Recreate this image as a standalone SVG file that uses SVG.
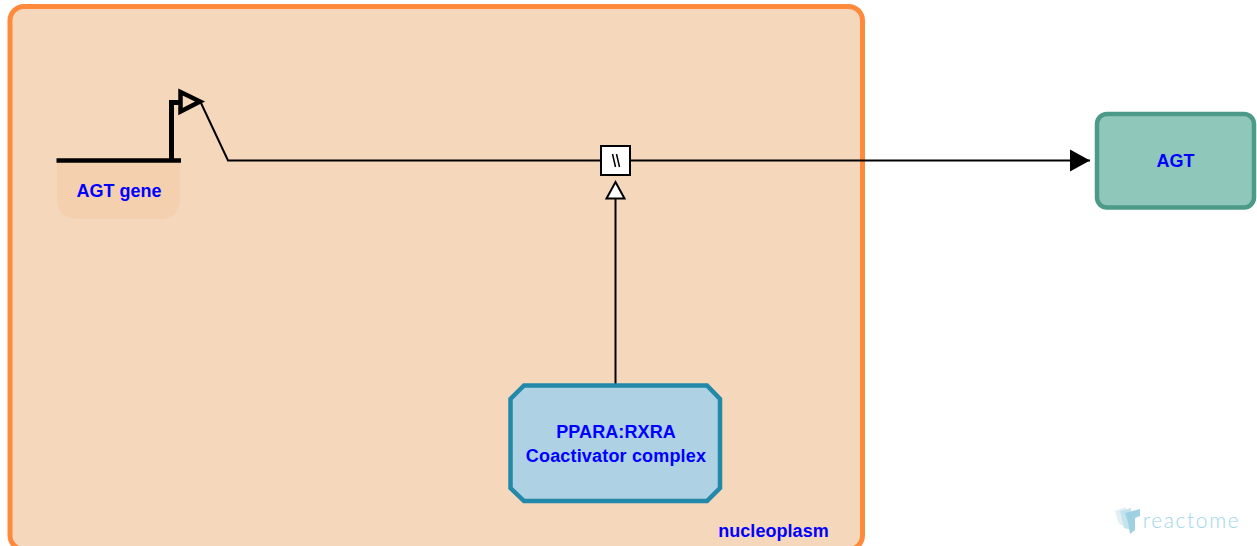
<svg xmlns="http://www.w3.org/2000/svg" width="1257" height="546" viewBox="0 0 1257 546">
<style>
text{font-family:"Liberation Sans",Arial,sans-serif;font-weight:700;font-size:18px;fill:#0000ff;text-anchor:middle}
.l{fill:none;stroke:#000;stroke-width:2}
</style>
<defs>
<marker id="arrow" markerUnits="userSpaceOnUse" markerWidth="20" markerHeight="24" refX="20" refY="12" orient="auto"><path d="M0 1L20 12L0 23Z" fill="#000"/></marker>
</defs>
<rect width="1257" height="546" fill="#fff"/>
<g id="nucleoplasm">
<rect x="10" y="6.500" width="852.500" height="543" rx="14" fill="#f5d7bc" stroke="#ff8a3c" stroke-width="5"/>
<text x="773.500" y="537" style="letter-spacing:.05px">nucleoplasm</text>
</g>
<g id="connectors">
<path class="l" d="M201 103L228 160.500H601M630 160.500H1090" marker-end="url(#arrow)"/>
<path class="l" d="M615.500 384V198"/>
<path d="M615.500 182L624.500 198.500H606.500Z" fill="#fff" stroke="#000" stroke-width="2"/>
</g>
<g id="reaction">
<rect x="601" y="146" width="29" height="29" fill="#fff" stroke="#000" stroke-width="2"/>
<path d="M612.500 154L615.500 167M616.500 154L619.500 167" fill="none" stroke="#000" stroke-width="1.500"/>
</g>
<g id="agt-gene">
<path d="M57 160H180V198Q180 219 159 219H78Q57 219 57 198Z" fill="#f4d0ae"/>
<path d="M56.500 160.500H181" fill="none" stroke="#000" stroke-width="4.500"/>
<path d="M171.500 160V102.500H180" fill="none" stroke="#000" stroke-width="5"/>
<path d="M180.500 92L200 101.500L180.500 111.500Z" fill="none" stroke="#000" stroke-width="4.500"/>
<text x="119" y="197">AGT gene</text>
</g>
<g id="complex">
<path d="M524 385.500H707L720 399V488L707 501H524L510.500 488V399Z" fill="#aed1e4" stroke="#2289a9" stroke-width="4.500"/>
<text x="616" y="438" style="letter-spacing:.1px">PPARA:RXRA</text>
<text x="616" y="462" style="letter-spacing:.17px">Coactivator complex</text>
</g>
<g id="agt">
<rect x="1097" y="114" width="157" height="93.500" rx="10" fill="#8fc7bb" stroke="#4d9a89" stroke-width="4.500"/>
<text x="1175.500" y="167">AGT</text>
</g>
<g id="logo">
<path d="M1115 511L1126 507V527L1119 524Z" fill="#e2f0f5"/>
<path d="M1120 511L1131 508V530L1124 528Z" fill="#c5e3ec"/>
<path d="M1125 513L1140 509V516L1135 518V530L1130 534L1128 522Z" fill="#9ed2e2"/>
<text x="1191.500" y="528" style="font-family:Lato,sans-serif;font-weight:300;font-size:21px;letter-spacing:1.600px;fill:#a0d6e8">reactome</text>
</g>
</svg>
